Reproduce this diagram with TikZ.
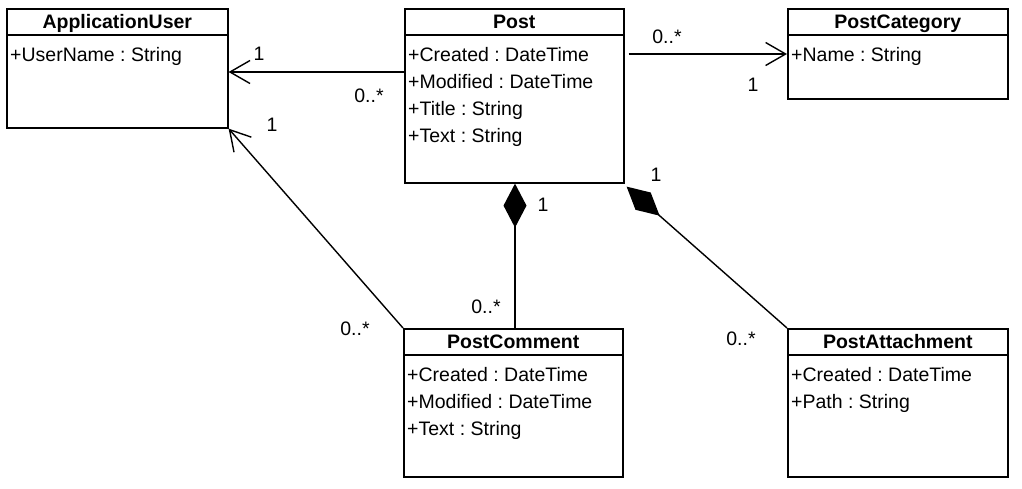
\documentclass[tikz,border=0pt]{standalone}
\usepackage{fontspec}
\setmainfont{Liberation Sans}
\usepackage{tikz}
\usetikzlibrary{arrows.meta,calc}

\begin{document}
\frenchspacing
\fontsize{19.5}{23}\selectfont
\begin{tikzpicture}[x=1pt, y=-1pt]
  \tikzstyle{classbox} = [draw=black, line width=1.6pt, rectangle, anchor=north west, inner sep=0pt]
  \tikzstyle{title} = [font=\bfseries, anchor=base, inner sep=0pt]
  \tikzstyle{attr} = [anchor=base west, inner sep=0pt]
  \tikzstyle{mult} = [anchor=base, inner sep=0pt]
  \tikzstyle{assoc} = [line width=1.4pt, -{Straight Barb[length=20pt, width=23pt]}]
  \tikzstyle{compose} = [line width=1.4pt, -{Diamond[length=44pt, width=23pt, fill=black]}]

  \useasboundingbox (0,0) rectangle (1022,488);

  % classes
  \node[classbox, minimum width=221, minimum height=119] (user) at (6,8) {};
  \node[title] (user-t) at ($(user.north)+(0,20.5)$) {ApplicationUser};
  \draw[line width=1.6pt] ($(user.north west)+(0,27)$) -- ($(user.north east)+(0,27)$);
  \foreach \a [count=\i] in {+UserName : String}
    \node[attr] (user-\i) at ($(user.north west)+(4,26+27*\i)$) {\a};

  \node[classbox, minimum width=219, minimum height=174] (post) at (404,8) {};
  \node[title] (post-t) at ($(post.north)+(0,20.5)$) {Post};
  \draw[line width=1.6pt] ($(post.north west)+(0,27)$) -- ($(post.north east)+(0,27)$);
  \foreach \a [count=\i] in {+Created : DateTime, +Modified : DateTime, +Title : String, +Text : String}
    \node[attr] (post-\i) at ($(post.north west)+(4,26+27*\i)$) {\a};

  \node[classbox, minimum width=220, minimum height=90] (cat) at (787,8) {};
  \node[title] (cat-t) at ($(cat.north)+(0,20.5)$) {PostCategory};
  \draw[line width=1.6pt] ($(cat.north west)+(0,27)$) -- ($(cat.north east)+(0,27)$);
  \foreach \a [count=\i] in {+Name : String}
    \node[attr] (cat-\i) at ($(cat.north west)+(4,26+27*\i)$) {\a};

  \node[classbox, minimum width=219, minimum height=148] (comment) at (403,328) {};
  \node[title] (comment-t) at ($(comment.north)+(0,20.5)$) {PostComment};
  \draw[line width=1.6pt] ($(comment.north west)+(0,27)$) -- ($(comment.north east)+(0,27)$);
  \foreach \a [count=\i] in {+Created : DateTime, +Modified : DateTime, +Text : String}
    \node[attr] (comment-\i) at ($(comment.north west)+(4,26+27*\i)$) {\a};

  \node[classbox, minimum width=220, minimum height=148] (attach) at (787,328) {};
  \node[title] (attach-t) at ($(attach.north)+(0,20.5)$) {PostAttachment};
  \draw[line width=1.6pt] ($(attach.north west)+(0,27)$) -- ($(attach.north east)+(0,27)$);
  \foreach \a [count=\i] in {+Created : DateTime, +Path : String}
    \node[attr] (attach-\i) at ($(attach.north west)+(4,26+27*\i)$) {\a};

  % associations
  \draw[assoc] (post.west |- 0,72) -- (user.east |- 0,72);
  \draw[assoc, shorten <=4pt] (post.east |- 0,54) -- (cat.west |- 0,54);
  \draw[assoc] (comment.north west) -- (user.south east);
  \draw[compose] (comment.north -| 515,0) -- (post.south -| 515,0);
  \draw[compose] (attach.north west) -- ([shift={(2,3)}]post.south east);

  % multiplicities
  \node[mult] (m-up1) at (259,60) {1};
  \node[mult] (m-up2) at (369,102) {0..*};
  \node[mult] (m-cu1) at (272,131) {1};
  \node[mult] (m-cu2) at (355,335) {0..*};
  \node[mult] (m-pc1) at (667,43) {0..*};
  \node[mult] (m-pc2) at (753,91) {1};
  \node[mult] (m-cp1) at (543,211) {1};
  \node[mult] (m-cp2) at (486,313) {0..*};
  \node[mult] (m-ap1) at (656,181) {1};
  \node[mult] (m-ap2) at (741,345) {0..*};
\end{tikzpicture}
\end{document}
